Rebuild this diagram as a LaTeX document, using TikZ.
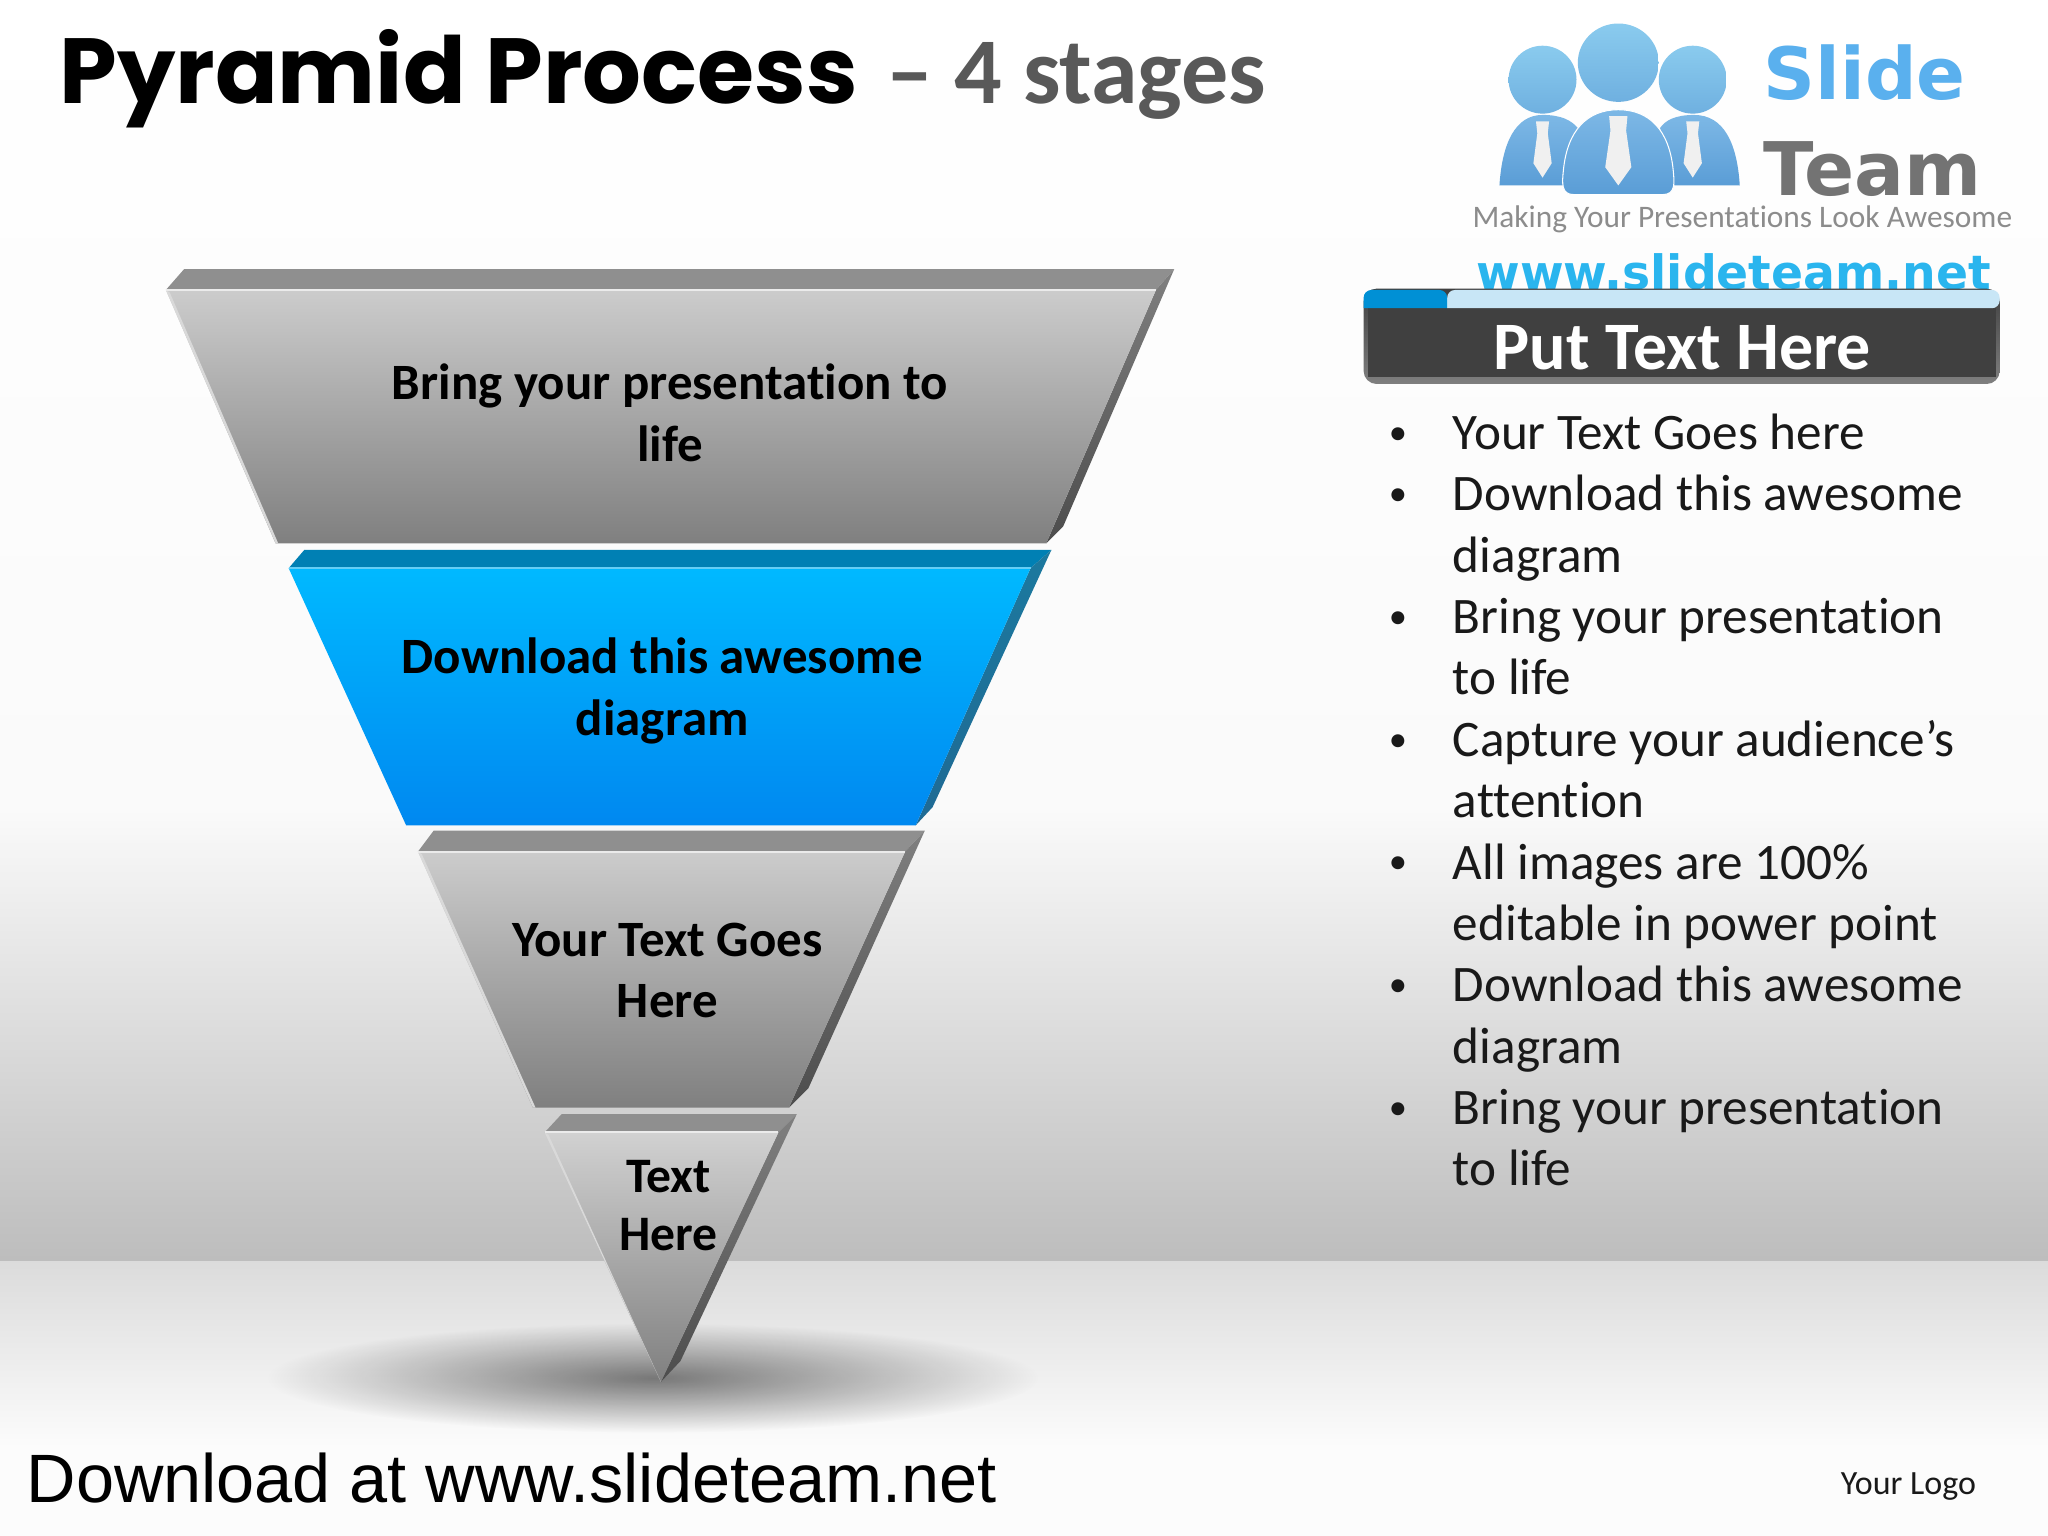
\documentclass[tikz,border=0pt]{standalone}
\usepackage{xcolor}
\usepackage{fontspec}
\setmainfont{Carlito}[Ligatures=NoCommon]
\newfontfamily\titlefont{Poppins}
\newfontfamily\logofont{DejaVu Sans}
\newfontfamily\footfont{Liberation Sans}
\usetikzlibrary{positioning, fadings}

\definecolor{topgray}{HTML}{8F8F8F}
\definecolor{topblue}{HTML}{0080B4}
\definecolor{sideblue}{HTML}{1F6A94}
\definecolor{faceblue}{HTML}{00B9FF}
\definecolor{deepblue}{HTML}{0088F0}
\definecolor{stripblue}{HTML}{0090D5}
\definecolor{stripsky}{HTML}{C8E6F6}
\definecolor{logoblue}{HTML}{5AB0EE}
\definecolor{webblue}{HTML}{2AB5EE}
\definecolor{headtop}{HTML}{8ACBEE}
\definecolor{headlow}{HTML}{6FB0E0}
\definecolor{bodytop}{HTML}{7DB8E6}
\definecolor{bodylow}{HTML}{5A9DD6}

\tikzfading[name=floorfade, inner color=transparent!50, outer color=transparent!100]

\tikzset{
  stagetext/.style={font=\bfseries\fontsize{19.5}{23.5}\selectfont, align=center, text=black},
  bullettext/.style={font=\fontsize{19.6}{23}\selectfont, anchor=base west, text=black!90},
  grayfront/.style={top color=#1, bottom color=black!50},
  grayside/.style={top color=black!50, bottom color=black!70},
  edgelight/.style={line width=0.8pt, black!8}
}

\begin{document}
\begin{tikzpicture}[x=0.5pt, y=-0.5pt]
  % background
  \useasboundingbox (0,0) rectangle (1568,1176);
  \shade[top color=white, bottom color=black!2] (0,0) rectangle (1568,620);
  \shade[top color=black!2, bottom color=black!26] (0,620) rectangle (1568,966);
  \shade[top color=black!14, bottom color=black!1] (0,966) rectangle (1568,1110);
  \fill[black!1] (0,1110) rectangle (1568,1176);
  \fill[black, path fading=floorfade] (500,1055) ellipse [x radius=295, y radius=42];

  % stage 1
  \fill[topgray] (141,206) -- (899,206) -- (885,222) -- (127,222) -- cycle;
  \shade[grayside] (885,222) -- (899,206) -- (814,403) -- (801,416) -- cycle;
  \shade[grayfront=black!20] (127,222) -- (885,222) -- (801,416) -- (211,416) -- cycle;
  \fill[black!15] (127,222) -- (130,224) -- (213,416) -- (211,416) -- cycle;
  \draw[edgelight] (127,222) -- (885,222);
  % stage 2
  \fill[topblue] (233,421) -- (805,421) -- (789,435) -- (221,435) -- cycle;
  \shade[top color=sideblue!90!cyan, bottom color=sideblue] (789,435) -- (805,421) -- (714,618) -- (701,632) -- cycle;
  \shade[top color=faceblue, bottom color=deepblue] (221,435) -- (789,435) -- (701,632) -- (311,632) -- cycle;
  \draw[line width=0.8pt, cyan!60!white] (221,435) -- (789,435);
  % stage 3
  \fill[topgray] (332,636) -- (708,636) -- (693,652) -- (320,652) -- cycle;
  \shade[grayside] (693,652) -- (708,636) -- (619,833) -- (604,848) -- cycle;
  \shade[grayfront=black!20] (320,652) -- (693,652) -- (604,848) -- (408,848) -- cycle;
  \fill[black!15] (320,652) -- (323,654) -- (410,848) -- (408,848) -- cycle;
  \draw[edgelight] (320,652) -- (693,652);
  % stage 4
  \fill[topgray] (430,853) -- (610,853) -- (596,867) -- (417,867) -- cycle;
  \shade[grayside] (596,867) -- (610,853) -- (521,1042) -- (506,1058) -- cycle;
  \shade[grayfront=black!18] (417,867) -- (596,867) -- (506,1058) -- cycle;
  \fill[black!15] (417,867) -- (420,869) -- (506,1058) -- cycle;
  \draw[edgelight] (417,867) -- (596,867);

  \node[stagetext] (stage_1) at (513,316) {Bring your presentation to\\life};
  \node[stagetext] (stage_2) at (507,529) {Download this awesome\\diagram};
  \node[stagetext] (stage_3) at (511,743) {Your Text Goes\\Here};
  \node[stagetext, font=\bfseries\fontsize{19}{22}\selectfont] (stage_4) at (512,923) {Text\\Here};

  % title
  \node[anchor=base west, inner sep=0pt, font=\titlefont\bfseries\fontsize{35.4}{36}\selectfont] (title) at (45,79) {Pyramid Process};
  \node[anchor=base west, inner sep=0pt, text=black!65, font=\bfseries\fontsize{36}{36}\selectfont] (subtitle) at (678,79) {– 4 stages};

  % logo
  \shade[top color=bodytop, bottom color=bodylow] (1148,142) .. controls (1150,110) and (1160,88) .. (1181,88) .. controls (1195,88) and (1203,92) .. (1208,98) -- (1197,142) -- cycle;
  \shade[top color=bodytop, bottom color=bodylow] (1332,142) .. controls (1330,110) and (1320,88) .. (1297,88) .. controls (1283,88) and (1275,92) .. (1271,98) -- (1282,142) -- cycle;
  \foreach \cx in {1181,1296} {
    \shade[top color=headtop, bottom color=headlow] (\cx,61) ellipse [x radius=26, y radius=26];
    \fill[black!6] (\cx-5,93) -- (\cx+5,93) -- (\cx+4,102) -- (\cx+7,125) -- (\cx,136) -- (\cx-7,125) -- (\cx-4,102) -- cycle;
  }
  \shade[top color=headtop, bottom color=headlow] (1239,48) ellipse [x radius=31, y radius=30];
  \shade[draw=white, top color=bodytop, bottom color=bodylow] (1205,149) .. controls (1195,149) and (1196,140) .. (1197,130) .. controls (1200,100) and (1215,84) .. (1239,84) .. controls (1263,84) and (1278,100) .. (1281,130) .. controls (1282,140) and (1283,149) .. (1273,149) -- cycle;
  \fill[black!6] (1232,89) -- (1246,89) -- (1245,100) -- (1249,128) -- (1239,142) -- (1229,128) -- (1233,100) -- cycle;
  \node[anchor=base west, inner sep=0pt, text=logoblue, font=\logofont\bfseries\fontsize{27.6}{32}\selectfont] (logo_slide) at (1350,76) {Slide};
  \node[anchor=base west, inner sep=0pt, text=black!55, font=\logofont\bfseries\fontsize{28.3}{32}\selectfont] (logo_team) at (1350,150) {Team};
  \node[anchor=base west, inner sep=0pt, text=black!45, font=\fontsize{12}{14}\selectfont] (logo_tag) at (1127,174) {Making Your Presentations Look Awesome};
  \node[anchor=base west, inner sep=0pt, text=webblue, font=\logofont\bfseries\fontsize{18.1}{22}\selectfont] (logo_web) at (1130,222) {www.slideteam.net};

  % header bar
  \shade[rounded corners=5pt, top color=black!75, bottom color=black!50] (1044,221) rectangle (1531,294);
  \fill[black!75] (1047,236) rectangle (1528,289);
  \fill[stripsky, rounded corners=3pt] (1108,236) -- (1108,222) -- (1531,222) -- (1531,236) [sharp corners] -- cycle;
  \fill[stripblue, rounded corners=3pt] (1044,236) -- (1044,222) -- (1108,222) [sharp corners] -- (1108,236) -- cycle;
  \node[text=white, font=\bfseries\fontsize{26}{28}\selectfont] (header) at (1288,266) {Put Text Here};

  % bullets
  \foreach \y/\txt [count=\n] in {
      344/Your Text Goes here,
      391/Download this awesome,
      438/diagram,
      485/Bring your presentation,
      532/to life,
      579/Capture your audience’s,
      626/attention,
      673/All images are 100\%,
      720/editable in power point,
      767/Download this awesome,
      814/diagram,
      861/Bring your presentation,
      908/to life}
    \node[bullettext, inner sep=0pt] (line_\n) at (1112,\y) {\txt};
  \foreach \y [count=\n] in {340,387,481,575,669,763,857}
    \node[bullettext, inner sep=0pt, font=\fontsize{14}{16}\selectfont] (bullet_\n) at (1063,\y) {•};

  % footer
  \node[anchor=base west, inner sep=0pt, font=\footfont\fontsize{26.2}{30}\selectfont] (footer) at (20,1150) {Download at www.slideteam.net};
  \node[anchor=base west, inner sep=0pt, text=black!90, font=\fontsize{13}{14}\selectfont] (your_logo) at (1409,1144) {Your Logo};
\end{tikzpicture}
\end{document}
